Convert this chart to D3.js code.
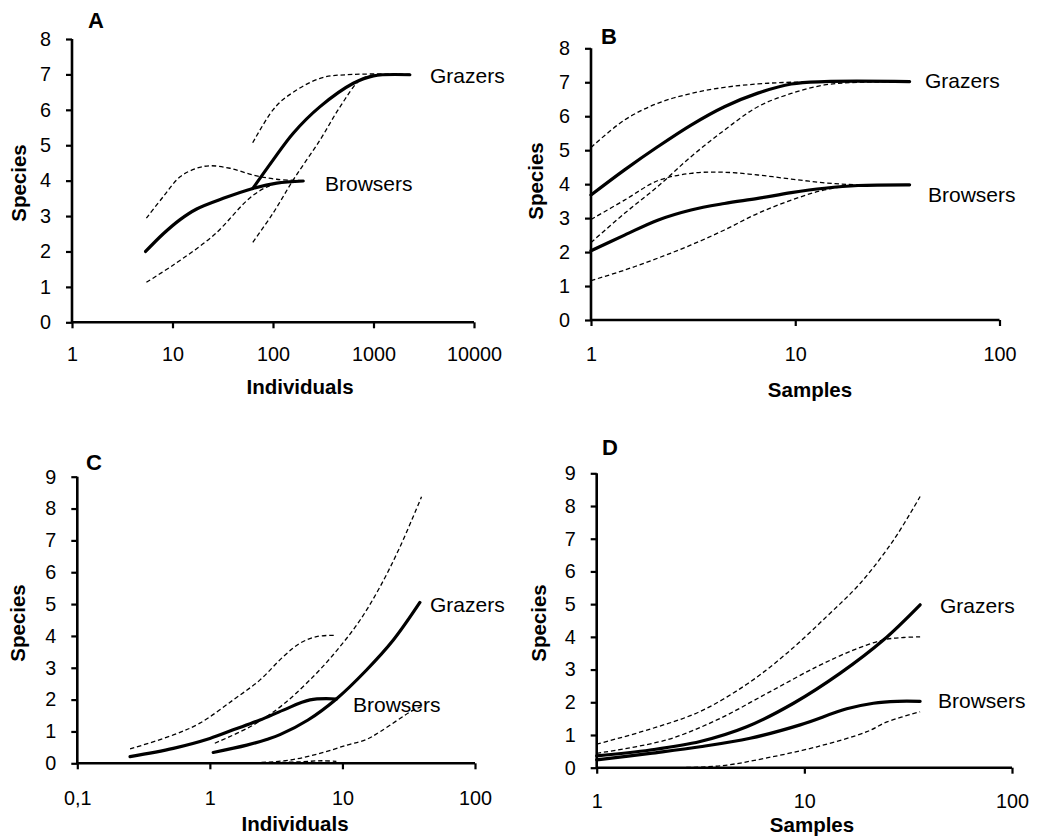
<!DOCTYPE html>
<html><head><meta charset="utf-8">
<script src="https://cdn.jsdelivr.net/npm/d3@7"></script>
<style>
html,body{margin:0;padding:0;background:#fff;}
svg{display:block;}
text{font-family:"Liberation Sans",Arial,sans-serif;fill:#000;}
</style></head>
<body>
<svg id="chart" width="1043" height="837"></svg>
<script>
// ---------- DATA (x, species) ----------
// Panel A : Individuals
const aBrowsersMean  = [[5.4,2.0],[8.1,2.5],[11.9,2.9],[17.4,3.2],[32,3.5],[63,3.78],[109,3.93],[200,3.99]];
const aBrowsersUpper = [[5.5,2.94],[8.1,3.55],[11.9,4.11],[17.4,4.35],[23.6,4.42],[37.3,4.35],[63,4.16],[109,4.04],[200,4.0]];
const aBrowsersLower = [[5.5,1.13],[10.2,1.62],[25.5,2.45],[63,3.58],[109,3.93],[200,4.0]];
const aGrazersMean   = [[63,3.78],[100,4.58],[159,5.34],[294,6.09],[630,6.75],[1000,6.96],[2300,6.99]];
const aGrazersUpper  = [[62.8,5.07],[100,6.0],[137,6.37],[294,6.89],[630,7.0],[2300,7.0]];
const aGrazersLower  = [[63,2.26],[100,3.08],[159,4.02],[294,5.15],[466,6.09],[735,6.84],[1000,6.97],[2300,7.0]];
// Panel B : Samples
const bBrowsersMean  = [[1,2.04],[1.46,2.5],[2.12,2.94],[3.09,3.24],[4.5,3.43],[6.56,3.58],[9.56,3.75],[13.9,3.88],[20.3,3.96],[36.3,3.98]];
const bBrowsersUpper = [[1,2.96],[1.46,3.53],[2.12,4.10],[3.09,4.32],[4.5,4.35],[6.56,4.27],[9.56,4.15],[13.9,4.04],[20.3,3.98],[36.3,3.98]];
const bBrowsersLower = [[1,1.16],[1.46,1.47],[2.12,1.82],[3.09,2.21],[4.5,2.65],[6.56,3.14],[9.56,3.53],[13.9,3.83],[20.3,3.97],[36.3,3.98]];
const bGrazersMean   = [[1,3.68],[1.46,4.42],[2.12,5.10],[3.09,5.74],[4.5,6.28],[6.56,6.68],[9.56,6.95],[13.9,7.02],[36.3,7.02]];
const bGrazersUpper  = [[1,5.08],[1.46,5.89],[2.12,6.38],[3.09,6.67],[4.5,6.85],[6.56,6.95],[9.56,7.0],[36.3,7.02]];
const bGrazersLower  = [[1,2.28],[1.46,3.14],[2.12,3.93],[3.09,4.81],[4.5,5.59],[6.56,6.28],[9.56,6.67],[13.9,6.92],[20.3,7.0],[36.3,7.02]];
// Panel C : Individuals
const cBrowsersMean  = [[0.25,0.21],[0.53,0.47],[1.0,0.78],[1.5,1.05],[2.39,1.36],[3.58,1.67],[5.69,1.99],[9.0,2.02]];
const cBrowsersUpper = [[0.25,0.45],[0.53,0.89],[0.84,1.26],[1.5,1.99],[2.39,2.62],[3.58,3.35],[4.78,3.77],[6.38,3.98],[9.0,4.02]];
const cBrowsersLower = [[1.26,0.0],[3,0.02],[5,0.05],[7,0.08],[9,0.06]];
const cGrazersMean   = [[1.06,0.34],[1.9,0.57],[2.68,0.75],[3.38,0.9],[5.5,1.36],[9.0,2.02],[15.2,2.93],[24.2,3.87],[38.4,5.05]];
const cGrazersUpper  = [[1.09,0.63],[2.12,1.2],[3.58,1.85],[6.38,2.83],[9.57,3.66],[13.6,4.50],[19.2,5.54],[27.2,6.80],[39.5,8.37]];
const cGrazersLower  = [[1.3,0.0],[2.3,0.02],[4.0,0.1],[6.76,0.31],[10.8,0.57],[15.2,0.75],[19.2,0.99],[34.2,1.67],[39.5,1.78]];
// Panel D : Samples
const dBrowsersMean  = [[1,0.24],[1.81,0.44],[3.15,0.64],[5.48,0.9],[9.55,1.31],[16,1.8],[21.5,1.97],[28,2.03],[36.1,2.03]];
const dBrowsersUpper = [[1,0.44],[2.17,0.85],[3.79,1.46],[6.6,2.27],[11.5,3.09],[17.3,3.6],[24.1,3.91],[30,3.98],[36.1,4.0]];
const dBrowsersLower = [[1,0.0],[10,0.0],[36.1,0.0]];
const dGrazersMean   = [[1,0.36],[1.81,0.54],[3.15,0.8],[5.28,1.25],[8.87,1.97],[14.9,2.89],[24.1,3.91],[36.1,4.98]];
const dGrazersUpper  = [[1,0.72],[1.81,1.18],[3.15,1.72],[5.28,2.55],[8.24,3.5],[12.8,4.62],[18.6,5.64],[26.9,6.96],[36.1,8.29]];
const dGrazersLower  = [[2.3,0.0],[4,0.06],[6.6,0.3],[11.5,0.64],[20,1.1],[25,1.4],[36.1,1.71]];

// tick labels
const aXTicks = [1,10,100,1000,10000];
const bXTicks = [1,10,100];
const cXTicks = [0.1,1,10,100];
const dXTicks = [1,10,100];
const cXTickLabels = ["0,1","1","10","100"];
const abYTicks = [0,1,2,3,4,5,6,7,8];
const cdYTicks = [0,1,2,3,4,5,6,7,8,9];
const panelLetters = ["A","B","C","D"];
const xTitles = ["Individuals","Samples","Individuals","Samples"];
const seriesNames = ["Grazers","Browsers"];

// ---------- LAYOUT ----------
const panels = [
  {letter:panelLetters[0], xDom:[1,10000], xR:[72,474], yDom:[0,8], yR:[322.3,39], xt:aXTicks, xl:aXTicks.map(String), yt:abYTicks, xpad:20,
   lines:[[aBrowsersUpper,1],[aBrowsersLower,1],[aGrazersUpper,1],[aGrazersLower,1],[aBrowsersMean,0],[aGrazersMean,0]],
   letterPos:[96,28], letterFont:"Liberation Sans", spPos:[18,183], xtPos:[300,394], gz:[430,83], br:[325,191]},
  {letter:panelLetters[1], xDom:[1,100], xR:[591,999.5], yDom:[0,8], yR:[320,48.3], xt:bXTicks, xl:bXTicks.map(String), yt:abYTicks, xpad:22,
   lines:[[bBrowsersUpper,1],[bBrowsersLower,1],[bGrazersUpper,1],[bGrazersLower,1],[bBrowsersMean,0],[bGrazersMean,0]],
   letterPos:[609,44], letterFont:"Liberation Sans", spPos:[535,181], xtPos:[810,397], gz:[925,88], br:[928,202]},
  {letter:panelLetters[2], xDom:[0.1,100], xR:[77.3,475], yDom:[0,9], yR:[763.3,476.7], xt:cXTicks, xl:cXTickLabels, yt:cdYTicks, xpad:23,
   lines:[[cBrowsersUpper,1],[cBrowsersLower,1],[cGrazersUpper,1],[cGrazersLower,1],[cBrowsersMean,0],[cGrazersMean,0]],
   letterPos:[94,470], letterFont:"Lato", spPos:[17,623], xtPos:[295,831], gz:[430,612], br:[353,712]},
  {letter:panelLetters[3], xDom:[1,100], xR:[596.7,1012], yDom:[0,9], yR:[767.7,473.3], xt:dXTicks, xl:dXTicks.map(String), yt:cdYTicks, xpad:21,
   lines:[[dBrowsersUpper,1],[dBrowsersLower,1],[dGrazersUpper,1],[dGrazersLower,1],[dBrowsersMean,0],[dGrazersMean,0]],
   letterPos:[610,455], letterFont:"Liberation Sans", spPos:[538,623], xtPos:[812,832], gz:[940,613], br:[938,708]}
];

const svg = d3.select("#chart");

panels.forEach((p, pi) => {
  const x = d3.scaleLog().domain(p.xDom).range(p.xR);
  const y = d3.scaleLinear().domain(p.yDom).range(p.yR);
  const g = svg.append("g");

  // series
  const line = d3.line().x(d => x(d[0])).y(d => y(d[1])).curve(d3.curveCatmullRom.alpha(0.5));
  p.lines.forEach(([data, dashed]) => {
    g.append("path").attr("d", line(data)).attr("fill","none").attr("stroke","#000")
      .attr("stroke-width", dashed ? 1.3 : 3.2)
      .attr("stroke-dasharray", dashed ? "4.5,2.8" : null)
      .attr("stroke-linecap", dashed ? "butt" : "round")
      .attr("stroke-linejoin","round");
  });

  // axes
  const xa = g.append("g").attr("transform", `translate(0,${p.yR[0]})`)
    .call(d3.axisBottom(x).tickValues(p.xt).tickFormat((d,i)=>p.xl[i]).tickSize(6).tickPadding(p.xpad - 1));
  const ya = g.append("g").attr("transform", `translate(${p.xR[0]},0)`)
    .call(d3.axisLeft(y).tickValues(p.yt).tickFormat(d3.format("d")).tickSize(6).tickPadding(15));
  [xa, ya].forEach(a => {
    a.select(".domain").attr("stroke","#000").attr("stroke-width",2.6);
    a.selectAll(".tick line").attr("stroke","#000").attr("stroke-width",2.2);
    a.selectAll(".tick text").attr("font-family","Liberation Sans, Arial, sans-serif").attr("font-size",19.8).attr("fill","#000");
  });
  xa.select(".domain").attr("d", `M${p.xR[0]},0H${p.xR[1]}`);
  ya.select(".domain").attr("d", `M0,${p.yR[0]}V${p.yR[1]}`);

  // texts
  g.append("text").attr("x",p.letterPos[0]).attr("y",p.letterPos[1]).attr("text-anchor","middle")
    .attr("font-family",p.letterFont).attr("font-weight","bold").attr("font-size",22).text(p.letter);
  g.append("text").attr("transform",`translate(${p.spPos[0]},${p.spPos[1]}) rotate(-90)`)
    .attr("text-anchor","middle").attr("dominant-baseline","central")
    .attr("font-weight","bold").attr("font-size",20.5).text("Species");
  g.append("text").attr("x",p.xtPos[0]).attr("y",p.xtPos[1]).attr("text-anchor","middle")
    .attr("font-weight","bold").attr("font-size",20.5).text(xTitles[pi]);
  g.append("text").attr("x",p.gz[0]).attr("y",p.gz[1]).attr("font-size",21).text(seriesNames[0]);
  g.append("text").attr("x",p.br[0]).attr("y",p.br[1]).attr("font-size",21).text(seriesNames[1]);
});
</script>
</body></html>
